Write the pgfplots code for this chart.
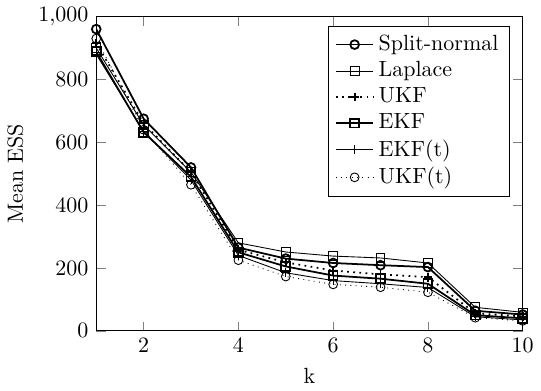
\documentclass[border=0pt]{standalone}
\usepackage{pgfplots}
\pgfplotsset{compat=1.18}
\begin{document}
\begin{tikzpicture}
\begin{axis}[
  scale only axis,
  width=194pt, height=143pt,
  xmin=1, xmax=10, ymin=0, ymax=1000,
  xtick={2,4,6,8,10},
  ytick={0,200,400,600,800,1000},
  xlabel={k}, ylabel={Mean ESS},
  legend pos=north east,
  legend cell align=left,
  legend style={row sep=-0.5pt},
]
\addplot[thick, black, mark=o] coordinates {(1,960) (2,675) (3,520) (4,265) (5,230) (6,216) (7,209) (8,203) (9,64) (10,52)};
\addlegendentry{Split-normal}
\addplot[black, mark=square] coordinates {(1,900) (2,655) (3,505) (4,280) (5,251) (6,238) (7,232) (8,216) (9,75) (10,59)};
\addlegendentry{Laplace}
\addplot[thick, dotted, black, mark=+, mark options={solid}] coordinates {(1,915) (2,660) (3,505) (4,258) (5,218) (6,192) (7,180) (8,171) (9,56) (10,46)};
\addlegendentry{UKF}
\addplot[thick, black, mark=square] coordinates {(1,888) (2,632) (3,490) (4,250) (5,205) (6,176) (7,166) (8,150) (9,50) (10,40)};
\addlegendentry{EKF}
\addplot[black, mark=+] coordinates {(1,880) (2,635) (3,480) (4,240) (5,185) (6,160) (7,150) (8,138) (9,45) (10,35)};
\addlegendentry{EKF(t)}
\addplot[dotted, black, mark=o, mark options={solid}] coordinates {(1,930) (2,640) (3,465) (4,225) (5,173) (6,148) (7,139) (8,123) (9,42) (10,32)};
\addlegendentry{UKF(t)}
\end{axis}
\end{tikzpicture}
\end{document}
